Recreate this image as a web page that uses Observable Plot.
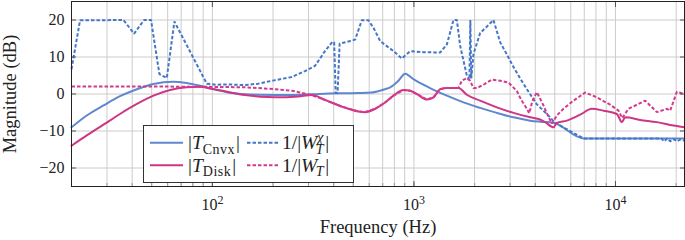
<!DOCTYPE html>
<html><head><meta charset="utf-8">
<script src="https://cdn.jsdelivr.net/npm/d3@7"></script>
<script src="https://cdn.jsdelivr.net/npm/@observablehq/plot@0.6"></script>
<style>
body{margin:0;background:#fff;}
#chart svg{display:block;}
</style></head><body><div id="chart"></div>
<script>
// ---------- data ----------
const freqCnvx = [20, 23.8, 28.8, 34.8, 42.2, 51, 64, 74.6, 90.2, 118, 169, 248, 362, 530, 618, 719, 762, 838, 904, 994, 1203, 1457, 1761, 2131, 2578, 3118, 3773, 4229, 4924, 6937, 22000];
const dbCnvx   = [-9.0, -5.8, -3.1, -0.6, 1.3, 2.7, 3.3, 2.95, 2.0, 0.5, -0.2, -0.3, 0.1, 0.25, 0.4, 1.3, 1.8, 3.6, 5.5, 4.0, 1.6, -0.45, -2.25, -3.75, -5.1, -6.3, -7.2, -7.5, -7.8, -12.0, -12.0];

const freqWX = [20, 22.05, 36.2, 40.9, 45.8, 49.6, 54.6, 59.4, 64.8, 93.8, 105, 118, 145, 169, 205, 248, 288, 323, 362, 394, 402, 409, 418, 428, 483, 511, 551, 595, 630, 680, 791, 871, 958, 1114, 1349, 1457, 1571, 1633, 1696, 1830, 1885, 1905, 1925, 1974, 2131, 2300, 2480, 2678, 2891, 3118, 3365, 3634, 4073, 4566, 5020, 6937, 16860, 17440, 18060, 18680, 19340, 20250, 20950, 22000];
const dbWX   = [6.7, 19.9, 20, 16.3, 20, 20, 5.4, 4.3, 19.6, 2.8, 2.5, 2.6, 2.4, 2.8, 3.75, 4.6, 6.2, 7.6, 11.6, 14.1, 14.0, 0.3, 0.3, 13.6, 14.3, 14.7, 19.9, 19.9, 17.9, 14.3, 11.6, 9.6, 11.6, 11.3, 11.2, 13.4, 20, 20, 13, 5, 3.8, 20, 4.2, 10.8, 16.5, 18.2, 20, 14, 10.7, 7.3, 4.2, 1.3, -2.8, -5.4, -7.8, -12.0, -12.0, -12.8, -12.0, -12.8, -12.2, -12.8, -12.3, -12.6];

const freqDisk = [20, 23.8, 28.8, 34.8, 42.2, 51, 61.7, 74.6, 86.9, 97.4, 118, 145, 205, 267, 311, 362, 439, 530, 572, 642, 719, 791, 887, 958, 1034, 1159, 1250, 1349, 1457, 1663, 1830, 2131, 2578, 3118, 3773, 4229, 4477, 4924, 5119, 5741, 6680, 7635, 8720, 10160, 10760, 11170, 13260, 16050, 19400, 22000];
const dbDisk   = [-14.0, -11.2, -8.3, -5.4, -2.7, -0.45, 1.07, 1.8, 1.96, 1.5, 0.6, -0.3, -0.9, -0.65, -0.3, -1.6, -3.4, -4.7, -4.9, -4.0, -2.3, -0.45, 1.07, 0.9, 0, -1.5, -0.9, 1.3, 1.6, 1.6, -0.2, -1.8, -3.6, -5.1, -6.3, -6.9, -7.6, -9.0, -7.8, -7.2, -5.6, -4.0, -4.5, -5.4, -7.6, -6.3, -7.0, -7.6, -8.5, -9.0];

const freqW = [20, 60, 118, 145, 169, 205, 248, 311, 362, 439, 530, 572, 642, 719, 791, 887, 958, 1034, 1159, 1250, 1349, 1457, 1663, 1729, 1830, 1900, 1974, 2052, 2213, 2436, 2678, 2944, 3241, 3400, 3634, 3734, 3865, 4073, 4392, 4634, 4835, 5119, 5520, 6188, 7072, 8084, 9412, 10350, 10800, 11600, 14040, 16050, 17990, 18680, 20170, 22000];
const dbW   = [2.0, 2.0, 1.9, 1.8, 1.6, 1.3, 0.9, -0.3, -1.6, -3.4, -4.7, -4.9, -4.0, -2.3, -0.45, 1.07, 0.9, 0, -1.5, -0.9, 1.3, 1.6, 1.6, 3.6, 4.3, 3.6, 1.6, 1.6, 2.5, 3.9, 3.6, 3.1, 0.8, -1.5, -4.0, -5.2, -2.0, 0.5, -3.1, -6.0, -8.0, -5.8, -4.0, -1.8, 0.4, -0.9, -2.9, -4.5, -6.5, -4.0, -1.8, -4.9, -4.0, -4.5, 0.6, 0.0];

const xGridTicks = [20,30,40,50,60,70,80,90,100,200,300,400,500,600,700,800,900,1000,2000,3000,4000,5000,6000,7000,8000,9000,10000,20000];
const xLabelTicks = [100, 1000, 10000];
const yTicks = [-20, -10, 0, 10, 20];
// ---------------------------------------------------------

const BLUE = "#5f87cf", BLUE_D = "#4477c8", PINK = "#cf3585", PINK_D = "#d33a8e";
const DASH = "3.5,2";
const FONT = "'Liberation Serif', 'DejaVu Serif', serif";
const rows = (f, m) => f.map((v, i) => ({f: v, db: m[i]}));

const chart = Plot.plot({
  width: 685, height: 240,
  marginLeft: 71, marginRight: 1, marginTop: 1, marginBottom: 54,
  style: {fontFamily: FONT, background: "white", color: "#222"},
  x: {type: "log", domain: [20, 22000]},
  y: {domain: [-25, 25]},
  marks: [
    Plot.gridX(xGridTicks, {stroke: "#cccccc", strokeOpacity: 1}),
    Plot.gridY(yTicks, {stroke: "#cccccc", strokeOpacity: 1}),
    Plot.line(rows(freqCnvx, dbCnvx), {x: "f", y: "db", stroke: BLUE, strokeWidth: 2, curve: "monotone-x"}),
    Plot.line(rows(freqWX, dbWX), {x: "f", y: "db", stroke: BLUE_D, strokeWidth: 2, strokeDasharray: DASH, strokeLinecap: "butt", strokeLinejoin: "miter"}),
    Plot.line(rows(freqDisk, dbDisk), {x: "f", y: "db", stroke: PINK, strokeWidth: 2, curve: "monotone-x"}),
    Plot.line(rows(freqW, dbW), {x: "f", y: "db", stroke: PINK_D, strokeWidth: 2, strokeDasharray: DASH, strokeLinecap: "butt", strokeLinejoin: "miter"}),
    Plot.axisX(xGridTicks, {anchor: "bottom", tickSize: -3, stroke: "#999", tickFormat: () => "", label: null}),
    Plot.axisX(xLabelTicks, {anchor: "bottom", tickSize: -5, stroke: "#555", tickPadding: 17, fontSize: 16, tickFormat: d => "10^" + Math.round(Math.log10(d)), label: null}),
    Plot.axisX(xLabelTicks, {anchor: "top", tickSize: -5, stroke: "#555", tickFormat: () => "", label: null}),
    Plot.axisY(yTicks, {anchor: "left", tickSize: -5, stroke: "#555", tickPadding: 12, fontSize: 16, label: null}),
    Plot.axisY(yTicks, {anchor: "right", tickSize: -5, stroke: "#555", tickFormat: () => "", label: null}),
    Plot.frame({stroke: "#222", strokeWidth: 1}),
    Plot.text(["Frequency (Hz)"], {text: d => d, frameAnchor: "bottom", textAnchor: "middle", lineAnchor: "middle", dy: 41, fontSize: 18.5}),
    Plot.text(["Magnitude (dB)"], {text: d => d, frameAnchor: "left", textAnchor: "middle", lineAnchor: "middle", dx: -61.5, rotate: -90, fontSize: 18.5})
  ]
});
document.getElementById("chart").appendChild(chart);

// superscript exponents on the x tick labels
d3.select(chart).selectAll("text").each(function() {
  const m = /^10\^(\d)$/.exec(this.textContent);
  if (!m) return;
  const t = d3.select(this);
  t.text("");
  t.append("tspan").text("10");
  t.append("tspan").attr("dy", "-0.45em").attr("font-size", 12).text(m[1]);
});

// legend (inside the plot, bottom-left)
const svg = d3.select(chart);
const MAIN = 19.5, SUB = 14;
const lg = svg.append("g").attr("font-family", FONT).attr("font-size", MAIN).attr("fill", "#222").attr("text-anchor", "start");
lg.append("rect").attr("x", 143.5).attr("y", 125.5).attr("width", 210).attr("height", 57)
  .attr("fill", "white").attr("stroke", "#333").attr("stroke-width", 1);
const rowY = [142.7, 165.3];
function measure(str, size, italic) {
  const t = lg.append("text").attr("font-size", size).attr("font-style", italic ? "italic" : "normal").text(str);
  const w = t.node().getComputedTextLength(); t.remove(); return w;
}
function sample(x1, x2, y, color, dash) {
  lg.append("line").attr("x1", x1).attr("x2", x2).attr("y1", y).attr("y2", y)
    .attr("stroke", color).attr("stroke-width", 2).attr("stroke-dasharray", dash || null);
}
function labelT(x, y, sub) {
  const t = lg.append("text").attr("x", x).attr("y", y + 6.5);
  t.append("tspan").text("|");
  t.append("tspan").attr("font-style", "italic").text("T");
  t.append("tspan").attr("font-size", SUB).attr("letter-spacing", 0.5).attr("dy", 4.5).text(sub);
  t.append("tspan").attr("dy", -4.5).attr("dx", 1).text("|");
}
function labelW(x, y, sup) {
  const t = lg.append("text").attr("x", x).attr("y", y + 6.5);
  t.append("tspan").text("1/|");
  t.append("tspan").attr("font-style", "italic").text("W");
  if (sup) {
    const wSup = measure(sup, SUB, true), wT = measure("T", SUB, true);
    t.append("tspan").attr("font-style", "italic").attr("font-size", SUB).attr("dy", -7.5).text(sup);
    t.append("tspan").attr("font-style", "italic").attr("font-size", SUB).attr("dy", 12).attr("dx", -wSup - 1.5).text("T");
    t.append("tspan").attr("dy", -4.5).attr("dx", Math.max(0, wSup + 1.5 - wT) + 1.5).text("|");
  } else {
    t.append("tspan").attr("font-style", "italic").attr("font-size", SUB).attr("dy", 4.5).attr("dx", -1.5).text("T");
    t.append("tspan").attr("dy", -4.5).attr("dx", 1.5).text("|");
  }
}
sample(150, 183, rowY[0], BLUE);
labelT(188, rowY[0], "Cnvx");
sample(247, 278, rowY[0], BLUE_D, DASH);
labelW(282, rowY[0], "χ");
sample(150, 183, rowY[1], PINK);
labelT(188, rowY[1], "Disk");
sample(247, 278, rowY[1], PINK_D, DASH);
labelW(282, rowY[1], null);
</script>
</body></html>
